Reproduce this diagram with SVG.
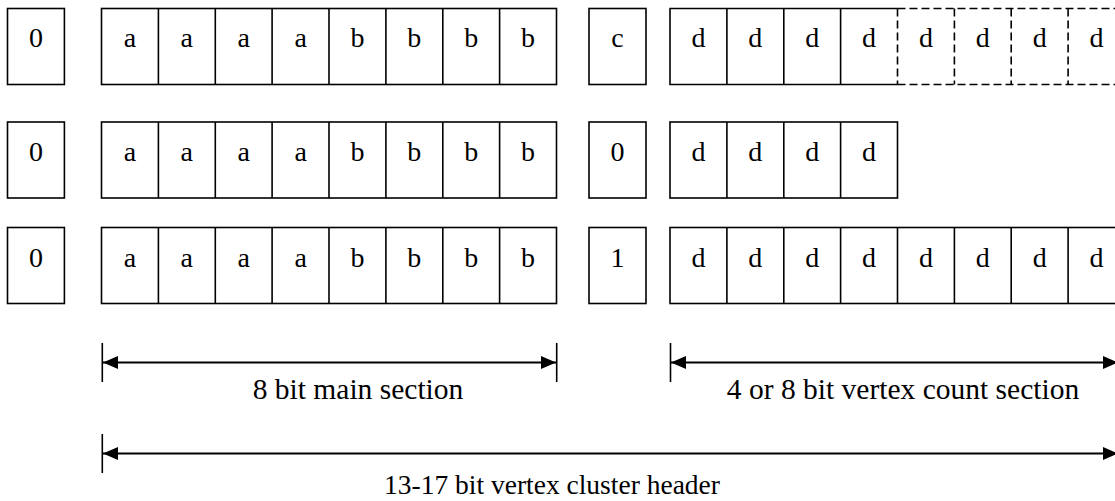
<svg xmlns="http://www.w3.org/2000/svg" width="1115" height="501" viewBox="0 0 1115 501">
  <defs>
    <style>
      .cell { fill: #fff; stroke: #000; stroke-width: 1.6; }
      .div { stroke: #000; stroke-width: 1.6; }
      .dash { fill: none; stroke: #000; stroke-width: 1.6; stroke-dasharray: 8 4; }
      .bit { font-family: "Liberation Serif", "Times New Roman", serif; font-size: 28px; text-anchor: middle; fill: #000; }
      .label { font-family: "Liberation Serif", "Times New Roman", serif; font-size: 29.5px; text-anchor: middle; fill: #000; }
      .label.total { font-size: 27.5px; }
      .dim { stroke: #000; stroke-width: 2.2; fill: none; }
      .tick { stroke: #000; stroke-width: 1.6; }
    </style>
    <marker id="head" viewBox="0 0 15 13" refX="15" refY="6.5" markerWidth="15" markerHeight="13" markerUnits="userSpaceOnUse" orient="auto-start-reverse">
      <path d="M0,0 L15,6.5 L0,13 Z" fill="#000"/>
    </marker>
  </defs>
  <rect width="1115" height="501" fill="#fff"/>

  <!-- Row 1: generic layout, c flag, 4 fixed + 4 optional d bits -->
  <g id="row1-flag">
    <rect class="cell" x="7.5" y="8.5" width="56.9" height="76"/>
    <text class="bit" x="36" y="47">0</text>
  </g>
  <g id="row1-main">
    <rect class="cell" x="101.5" y="8.5" width="455" height="76"/>
    <path class="div" d="M158.4,8.5V84.5M215.3,8.5V84.5M272.1,8.5V84.5M329,8.5V84.5M385.9,8.5V84.5M442.8,8.5V84.5M499.6,8.5V84.5"/>
    <text class="bit" y="47"><tspan x="130">a</tspan><tspan x="186.8">a</tspan><tspan x="243.7">a</tspan><tspan x="300.6">a</tspan><tspan x="357.4">b</tspan><tspan x="414.3">b</tspan><tspan x="471.2">b</tspan><tspan x="528.1">b</tspan></text>
  </g>
  <g id="row1-count-flag">
    <rect class="cell" x="589" y="8.5" width="57" height="76"/>
    <text class="bit" x="617.5" y="47">c</text>
  </g>
  <g id="row1-count">
    <path class="cell" d="M897.5,8.5H670V84.5H897.5"/>
    <path class="div" d="M726.9,8.5V84.5M783.8,8.5V84.5M840.6,8.5V84.5"/>
    <path class="dash" d="M897.5,8.5H1125M897.5,84.5H1125M897.5,8.5V84.5M954.4,8.5V84.5M1011.2,8.5V84.5M1068.1,8.5V84.5"/>
    <text class="bit" y="47"><tspan x="698.4">d</tspan><tspan x="755.3">d</tspan><tspan x="812.2">d</tspan><tspan x="869.1">d</tspan><tspan x="926">d</tspan><tspan x="982.8">d</tspan><tspan x="1039.7">d</tspan><tspan x="1096.6">d</tspan></text>
  </g>

  <!-- Row 2: 4 bit vertex count -->
  <g id="row2-flag">
    <rect class="cell" x="7.5" y="122" width="56.9" height="76"/>
    <text class="bit" x="36" y="161">0</text>
  </g>
  <g id="row2-main">
    <rect class="cell" x="101.5" y="122" width="455" height="76"/>
    <path class="div" d="M158.4,122V198M215.3,122V198M272.1,122V198M329,122V198M385.9,122V198M442.8,122V198M499.6,122V198"/>
    <text class="bit" y="161"><tspan x="130">a</tspan><tspan x="186.8">a</tspan><tspan x="243.7">a</tspan><tspan x="300.6">a</tspan><tspan x="357.4">b</tspan><tspan x="414.3">b</tspan><tspan x="471.2">b</tspan><tspan x="528.1">b</tspan></text>
  </g>
  <g id="row2-count-flag">
    <rect class="cell" x="589" y="122" width="57" height="76"/>
    <text class="bit" x="617.5" y="161">0</text>
  </g>
  <g id="row2-count">
    <rect class="cell" x="670" y="122" width="227.5" height="76"/>
    <path class="div" d="M726.9,122V198M783.8,122V198M840.6,122V198"/>
    <text class="bit" y="161"><tspan x="698.4">d</tspan><tspan x="755.3">d</tspan><tspan x="812.2">d</tspan><tspan x="869.1">d</tspan></text>
  </g>

  <!-- Row 3: 8 bit vertex count -->
  <g id="row3-flag">
    <rect class="cell" x="7.5" y="227.5" width="56.9" height="76"/>
    <text class="bit" x="36" y="266.5">0</text>
  </g>
  <g id="row3-main">
    <rect class="cell" x="101.5" y="227.5" width="455" height="76"/>
    <path class="div" d="M158.4,227.5V303.5M215.3,227.5V303.5M272.1,227.5V303.5M329,227.5V303.5M385.9,227.5V303.5M442.8,227.5V303.5M499.6,227.5V303.5"/>
    <text class="bit" y="266.5"><tspan x="130">a</tspan><tspan x="186.8">a</tspan><tspan x="243.7">a</tspan><tspan x="300.6">a</tspan><tspan x="357.4">b</tspan><tspan x="414.3">b</tspan><tspan x="471.2">b</tspan><tspan x="528.1">b</tspan></text>
  </g>
  <g id="row3-count-flag">
    <rect class="cell" x="589" y="227.5" width="57" height="76"/>
    <text class="bit" x="617.5" y="266.5">1</text>
  </g>
  <g id="row3-count">
    <rect class="cell" x="670" y="227.5" width="455" height="76"/>
    <path class="div" d="M726.9,227.5V303.5M783.8,227.5V303.5M840.6,227.5V303.5M897.5,227.5V303.5M954.4,227.5V303.5M1011.2,227.5V303.5M1068.1,227.5V303.5"/>
    <text class="bit" y="266.5"><tspan x="698.4">d</tspan><tspan x="755.3">d</tspan><tspan x="812.2">d</tspan><tspan x="869.1">d</tspan><tspan x="926">d</tspan><tspan x="982.8">d</tspan><tspan x="1039.7">d</tspan><tspan x="1096.6">d</tspan></text>
  </g>

  <!-- Dimension arrows -->
  <g id="connectors">
    <path class="tick" d="M102.3,343V382M556.7,343V382"/>
    <line class="dim" x1="103" y1="362.5" x2="556" y2="362.5" marker-start="url(#head)" marker-end="url(#head)"/>
    <path class="tick" d="M670.5,343V382"/>
    <line class="dim" x1="671" y1="362.5" x2="1118" y2="362.5" marker-start="url(#head)" marker-end="url(#head)"/>
    <path class="tick" d="M102.3,434V473"/>
    <line class="dim" x1="103" y1="453.5" x2="1118" y2="453.5" marker-start="url(#head)" marker-end="url(#head)"/>
  </g>

  <g id="labels">
    <text class="label" x="358" y="399">8 bit main section</text>
    <text class="label" x="903" y="399">4 or 8 bit vertex count section</text>
    <text class="label total" x="552" y="494">13-17 bit vertex cluster header</text>
  </g>
</svg>
